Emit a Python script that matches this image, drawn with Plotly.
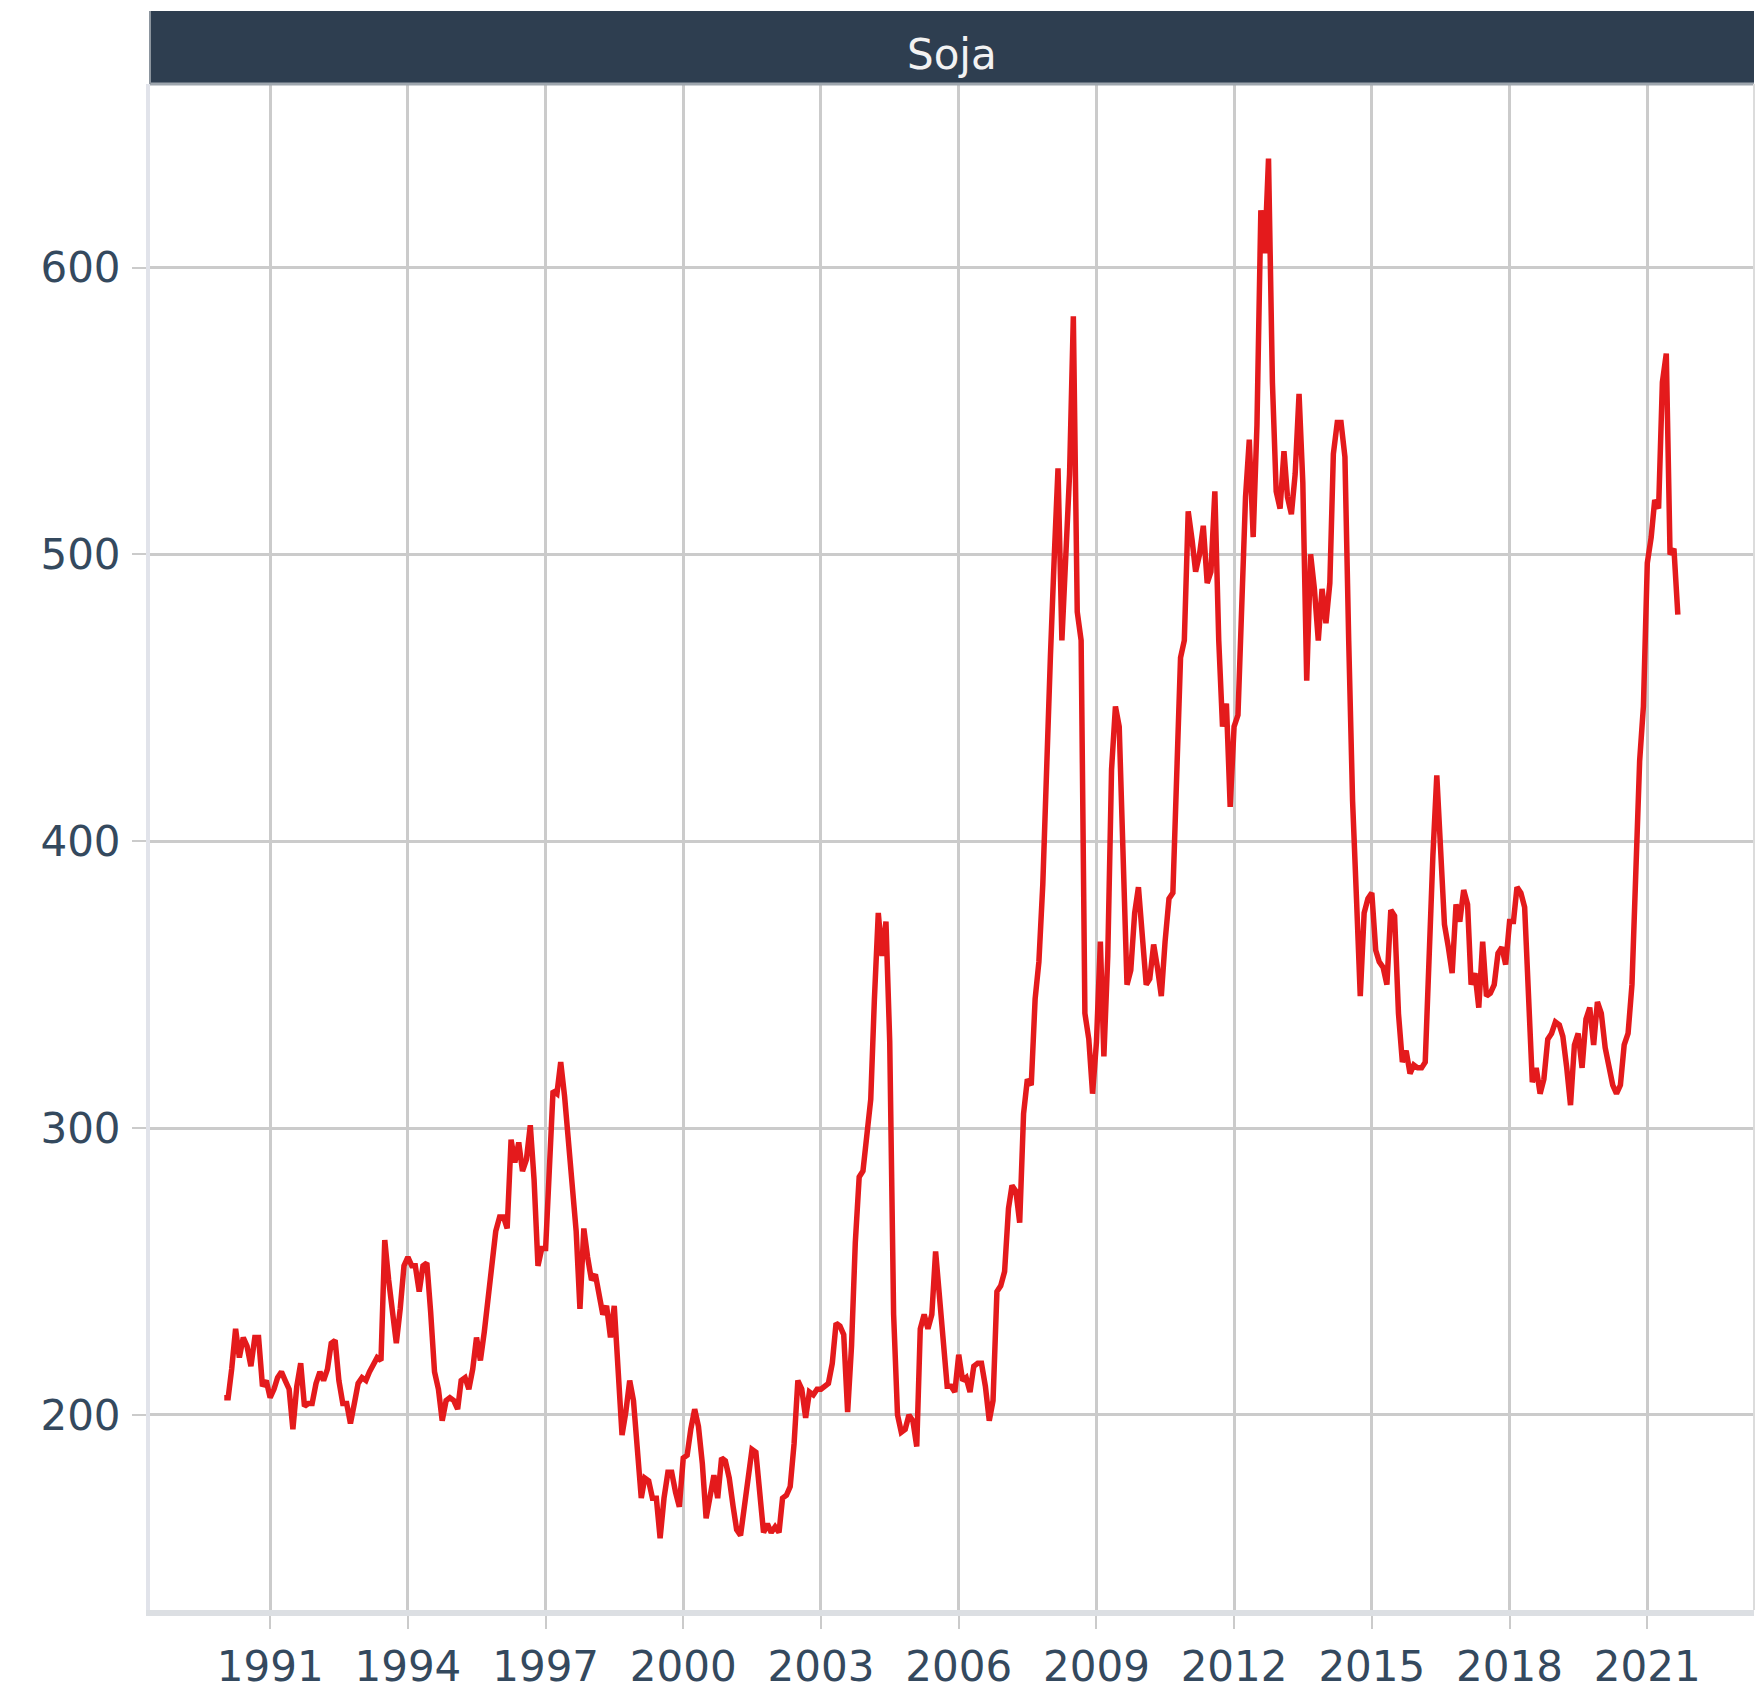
import pandas as pd
import plotly.graph_objects as go

# Monthly soybean price (Soja), Jan 1990 .. Sep 2021
soja_1990 = [206, 206, 216, 230, 220, 227, 224, 217, 227, 227, 210, 212]
soja_1991 = [206, 209, 213, 215, 212, 209, 195, 210, 218, 203, 204, 204]
soja_1992 = [211, 215, 212, 216, 225, 226, 212, 204, 204, 197, 204, 211]
soja_1993 = [213, 212, 215, 218, 220, 219, 261, 247, 236, 225, 237, 252]
soja_1994 = [255, 252, 252, 243, 252, 253, 236, 215, 209, 198, 205, 206]
soja_1995 = [205, 202, 212, 213, 209, 216, 227, 219, 229, 241, 252, 264]
soja_1996 = [269, 269, 265, 296, 288, 295, 285, 289, 301, 282, 252, 258]
soja_1997 = [258, 287, 313, 312, 323, 311, 296, 279, 264, 237, 265, 255]
soja_1998 = [247, 249, 241, 235, 238, 227, 238, 214, 193, 201, 212, 205]
soja_1999 = [189, 171, 178, 177, 171, 171, 157, 171, 180, 180, 173, 168]
soja_2000 = [185, 186, 195, 202, 196, 183, 164, 173, 179, 171, 185, 184]
soja_2001 = [178, 168, 160, 158, 168, 181, 188, 187, 173, 159, 162, 159]
soja_2002 = [161, 159, 171, 172, 175, 190, 212, 209, 199, 208, 207, 209]
soja_2003 = [209, 210, 211, 218, 232, 231, 228, 201, 224, 260, 283, 285]
soja_2004 = [300, 310, 345, 375, 360, 372, 330, 235, 200, 194, 195, 200]
soja_2005 = [198, 189, 230, 235, 230, 235, 257, 240, 222, 210, 210, 208]
soja_2006 = [221, 212, 213, 208, 217, 218, 218, 210, 198, 205, 243, 245]
soja_2007 = [250, 272, 280, 278, 267, 305, 317, 315, 345, 358, 385, 430]
soja_2008 = [465, 500, 530, 470, 496, 528, 583, 480, 470, 340, 331, 312]
soja_2009 = [330, 365, 325, 360, 425, 447, 440, 400, 350, 355, 375, 384]
soja_2010 = [365, 350, 352, 364, 356, 346, 365, 380, 382, 430, 464, 470]
soja_2011 = [515, 505, 494, 500, 510, 490, 494, 522, 470, 440, 448, 412]
soja_2012 = [440, 444, 480, 520, 540, 506, 545, 620, 605, 638, 560, 522]
soja_2013 = [516, 536, 520, 514, 528, 556, 525, 456, 500, 488, 470, 488]
soja_2014 = [476, 490, 535, 546, 546, 534, 470, 414, 380, 346, 375, 380]
soja_2015 = [382, 362, 358, 356, 350, 376, 374, 340, 323, 327, 319, 322]
soja_2016 = [321, 321, 323, 365, 395, 423, 396, 371, 363, 354, 378, 372]
soja_2017 = [383, 378, 350, 354, 342, 365, 346, 347, 350, 361, 363, 357]
soja_2018 = [372, 372, 384, 382, 377, 348, 316, 321, 312, 317, 331, 333]
soja_2019 = [337, 336, 332, 321, 308, 329, 333, 321, 338, 342, 329, 344]
soja_2020 = [340, 328, 321, 315, 312, 315, 329, 333, 350, 395, 428, 447]
soja_2021 = [497, 506, 519, 516, 560, 570, 500, 502, 479]

start_month = "1990-01-01"
panel_title = "Soja"
x_tick_years = [1991, 1994, 1997, 2000, 2003, 2006, 2009, 2012, 2015, 2018, 2021]
y_tick_values = [200, 300, 400, 500, 600]

values = (soja_1990 + soja_1991 + soja_1992 + soja_1993 + soja_1994 + soja_1995
          + soja_1996 + soja_1997 + soja_1998 + soja_1999 + soja_2000 + soja_2001
          + soja_2002 + soja_2003 + soja_2004 + soja_2005 + soja_2006 + soja_2007
          + soja_2008 + soja_2009 + soja_2010 + soja_2011 + soja_2012 + soja_2013
          + soja_2014 + soja_2015 + soja_2016 + soja_2017 + soja_2018 + soja_2019
          + soja_2020 + soja_2021)
dates = pd.date_range(start=start_month, periods=len(values), freq="MS")

# the page body adds an 8px offset; figure sized so nothing overflows
W, H = 1755, 1682
ML, MR, MT, MB = 142, 9, 3, 80
plot_h = H - MT - MB
strip_h = 73
ydom_top = 1 - strip_h / plot_h

FONT = "DejaVu Sans"
TXT = "#34495e"
GRID = "#cbcbcb"

fig = go.Figure()
fig.add_trace(go.Scatter(
    x=dates, y=values, mode="lines",
    line=dict(color="#e41a1c", width=5.5),
    name=panel_title, showlegend=False,
))

fig.update_layout(
    width=W, height=H,
    margin=dict(l=ML, r=MR, t=MT, b=MB, autoexpand=False),
    paper_bgcolor="white", plot_bgcolor="white",
    showlegend=False,
    xaxis=dict(
        type="date",
        range=["1988-05-20", "2023-04-30"],
        tickvals=[f"{y}-01-01" for y in x_tick_years],
        ticktext=[str(y) for y in x_tick_years],
        showgrid=True, gridcolor=GRID, gridwidth=2.5,
        ticks="outside", ticklen=13, tickwidth=2, tickcolor=GRID,
        showline=True, linecolor="#dcdfe3", linewidth=6,
        zeroline=False, automargin=False,
        tickfont=dict(family=FONT, size=42, color=TXT),
        ticklabelstandoff=2,
    ),
    yaxis=dict(
        domain=[0, ydom_top],
        range=[132, 664],
        tickvals=y_tick_values,
        ticktext=[str(v) for v in y_tick_values],
        showgrid=True, gridcolor=GRID, gridwidth=2.5,
        ticks="outside", ticklen=14, tickwidth=2, tickcolor=GRID,
        showline=True, linecolor="#e1e3ea", linewidth=4,
        zeroline=False, automargin=False,
        tickfont=dict(family=FONT, size=42, color=TXT),
        ticklabelstandoff=3,
    ),
)

# facet strip
fig.add_shape(type="rect", xref="paper", yref="paper",
              x0=0, x1=1, y0=ydom_top, y1=1,
              fillcolor="#2e3e50", line=dict(width=0), layer="above")
fig.add_shape(type="line", xref="paper", yref="paper",
              x0=0, x1=1, y0=ydom_top, y1=ydom_top,
              line=dict(color="#9ea6ae", width=3), layer="above")
fig.add_shape(type="line", xref="paper", yref="paper",
              x0=0, x1=0, y0=ydom_top, y1=1,
              line=dict(color="#8c959e", width=2), layer="above")
# right panel border
fig.add_shape(type="line", xref="paper", yref="paper",
              x0=1, x1=1, y0=0, y1=ydom_top,
              line=dict(color="#dcdcdc", width=2), layer="above")

fig.add_annotation(
    text=panel_title, xref="paper", yref="paper",
    x=0.5, y=1 - 43 / plot_h,
    xanchor="center", yanchor="middle", showarrow=False,
    font=dict(family=FONT, size=42, color="#f2f2f2"),
)

fig.write_html("out.html")
